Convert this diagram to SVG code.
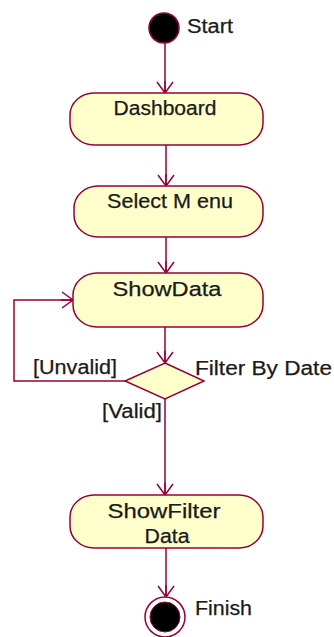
<svg xmlns="http://www.w3.org/2000/svg" width="334" height="637" viewBox="0 0 334 637">
<style>
.bg{fill:#ffffff}
.act{fill:#ffffcc;stroke:#990033;stroke-width:1.5}
.ln{fill:none;stroke:#990033;stroke-width:1.5}
.t{font-family:"Liberation Sans",Arial,sans-serif;font-size:20px;fill:#1a1a1a;stroke:#1a1a1a;stroke-width:0.25}
.m{text-anchor:middle}
</style>
<defs>
<marker id="arr" markerUnits="userSpaceOnUse" viewBox="-12 -10 14 20" refX="0" refY="0" markerWidth="14" markerHeight="20" orient="auto">
<path d="M-11,-8 L0,0 L-11,8 M-12,0 L0,0" fill="none" stroke="#990033" stroke-width="1.5"/>
</marker>
</defs>
<rect class="bg" x="0" y="0" width="334" height="637"/>
<g id="connectors">
<line class="ln" x1="165" y1="43" x2="165" y2="93" marker-end="url(#arr)"/>
<line class="ln" x1="166" y1="145" x2="166" y2="186" marker-end="url(#arr)"/>
<line class="ln" x1="166" y1="237" x2="166" y2="273" marker-end="url(#arr)"/>
<line class="ln" x1="165" y1="327" x2="165" y2="363" marker-end="url(#arr)"/>
<polyline class="ln" points="125,381 14,381 14,300 73,300" marker-end="url(#arr)"/>
<line class="ln" x1="165" y1="399" x2="165" y2="495" marker-end="url(#arr)"/>
<line class="ln" x1="166" y1="548" x2="166" y2="597" marker-end="url(#arr)"/>
<text class="t" x="33" y="374" textLength="84" lengthAdjust="spacingAndGlyphs">[Unvalid]</text>
<text class="t" x="102" y="418" textLength="60" lengthAdjust="spacingAndGlyphs">[Valid]</text>
</g>
<g id="start">
<circle cx="164" cy="28" r="15" fill="#000" stroke="#990033" stroke-width="1.5"/>
<text class="t" x="187" y="33" textLength="46" lengthAdjust="spacingAndGlyphs">Start</text>
</g>
<g id="dashboard">
<rect class="act" x="70" y="93" width="193" height="52" rx="24" ry="22"/>
<text class="t m" x="165" y="115" textLength="103" lengthAdjust="spacingAndGlyphs">Dashboard</text>
</g>
<g id="select-menu">
<rect class="act" x="74" y="186" width="189" height="51" rx="24" ry="22"/>
<text class="t m" x="170" y="208" textLength="126" lengthAdjust="spacingAndGlyphs">Select M enu</text>
</g>
<g id="show-data">
<rect class="act" x="73" y="273" width="190" height="54" rx="24" ry="22"/>
<text class="t m" x="167" y="296" textLength="109" lengthAdjust="spacingAndGlyphs">ShowData</text>
</g>
<g id="filter-by-date">
<polygon class="act" points="165,363 204,381 165,399 125,381"/>
<text class="t" x="195" y="375" textLength="137" lengthAdjust="spacingAndGlyphs">Filter By Date</text>
</g>
<g id="show-filter-data">
<rect class="act" x="70" y="495" width="193" height="53" rx="24" ry="22"/>
<text class="t m" x="164" y="518" textLength="113" lengthAdjust="spacingAndGlyphs">ShowFilter</text>
<text class="t m" x="167" y="543" textLength="45" lengthAdjust="spacingAndGlyphs">Data</text>
</g>
<g id="finish">
<circle cx="165" cy="617" r="20" fill="#fff" stroke="#990033" stroke-width="1.5"/>
<circle cx="165" cy="617" r="15" fill="#000" stroke="#990033" stroke-width="1"/>
<text class="t" x="195" y="615" textLength="57" lengthAdjust="spacingAndGlyphs">Finish</text>
</g>
</svg>
